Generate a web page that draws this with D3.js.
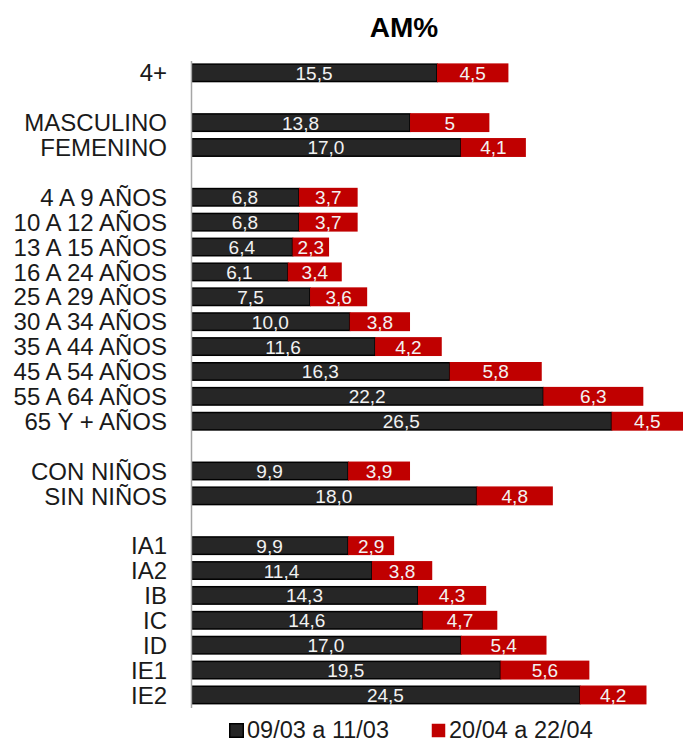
<!DOCTYPE html>
<html>
<head>
<meta charset="utf-8">
<script src="https://cdn.jsdelivr.net/npm/d3@7"></script>
<style>
  html, body { margin: 0; padding: 0; background: #fff; }
  svg { display: block; font-family: "Liberation Sans", Arial, sans-serif; }
</style>
</head>
<body>
<svg id="chart" width="684" height="742"></svg>
<script>
// Row labels; null marks an empty spacer row between groups
const categories = [
  "4+", null,
  "MASCULINO", "FEMENINO", null,
  "4 A 9 AÑOS", "10 A 12 AÑOS", "13 A 15 AÑOS", "16 A 24 AÑOS", "25 A 29 AÑOS",
  "30 A 34 AÑOS", "35 A 44 AÑOS", "45 A 54 AÑOS", "55 A 64 AÑOS", "65 Y + AÑOS", null,
  "CON NIÑOS", "SIN NIÑOS", null,
  "IA1", "IA2", "IB", "IC", "ID", "IE1", "IE2"
];

// Series values as printed (decimal comma)
const period1 = [
  "15,5", null,
  "13,8", "17,0", null,
  "6,8", "6,8", "6,4", "6,1", "7,5", "10,0", "11,6", "16,3", "22,2", "26,5", null,
  "9,9", "18,0", null,
  "9,9", "11,4", "14,3", "14,6", "17,0", "19,5", "24,5"
];
const period2 = [
  "4,5", null,
  "5", "4,1", null,
  "3,7", "3,7", "2,3", "3,4", "3,6", "3,8", "4,2", "5,8", "6,3", "4,5", null,
  "3,9", "4,8", null,
  "2,9", "3,8", "4,3", "4,7", "5,4", "5,6", "4,2"
];

const seriesNames = ["09/03 a 11/03", "20/04 a 22/04"];
const title = "AM%";

const num = s => +String(s).replace(",", ".");

const rows = categories.map((c, i) => ({
  key: String(i),
  label: c,
  a: period1[i] == null ? null : num(period1[i]),
  b: period2[i] == null ? null : num(period2[i]),
  aText: period1[i],
  bText: period2[i]
}));

const svg = d3.select("#chart");

const x = d3.scaleLinear().domain([0, 31]).range([191, 683]);
const y = d3.scaleBand()
  .domain(rows.map(r => r.key))
  .range([60.4, 707.4])
  .paddingInner(0.24)
  .paddingOuter(0.12);

// Title
svg.append("text")
  .attr("x", 404).attr("y", 37)
  .attr("text-anchor", "middle")
  .attr("font-size", 28).attr("font-weight", "bold")
  .attr("fill", "#000")
  .text(title);

const data = rows.filter(r => r.label != null);

// First period bars
svg.append("g").selectAll("rect")
  .data(data).join("rect")
  .attr("x", x(0) + 0.75)
  .attr("y", d => y(d.key) + 0.75)
  .attr("width", d => x(d.a) - x(0) - 0.75)
  .attr("height", y.bandwidth() - 1.5)
  .attr("fill", "#262626")
  .attr("stroke", "#000")
  .attr("stroke-width", 1.5);

// Second period bars, stacked after the first
svg.append("g").selectAll("rect")
  .data(data).join("rect")
  .attr("x", d => x(d.a))
  .attr("y", d => y(d.key))
  .attr("width", d => x(d.a + d.b) - x(d.a))
  .attr("height", y.bandwidth())
  .attr("fill", "#c00000");

// Value labels centred in each segment
const labels = svg.append("g")
  .attr("font-size", 19)
  .attr("fill", "#f2f2f2")
  .attr("text-anchor", "middle");

labels.selectAll("text.a")
  .data(data).join("text")
  .attr("class", "a")
  .attr("x", d => (x(0) + x(d.a)) / 2)
  .attr("y", d => y(d.key) + y.bandwidth() / 2 + 7)
  .text(d => d.aText);

labels.selectAll("text.b")
  .data(data).join("text")
  .attr("class", "b")
  .attr("x", d => (x(d.a) + x(d.a + d.b)) / 2)
  .attr("y", d => y(d.key) + y.bandwidth() / 2 + 7)
  .text(d => d.bText);

// Category axis
const axis = d3.axisLeft(y)
  .tickSize(0)
  .tickPadding(24)
  .tickFormat(k => rows[+k].label || "");

const gAxis = svg.append("g")
  .attr("transform", `translate(${x(0)},0)`)
  .call(axis);
gAxis.select(".domain").attr("stroke", "#a6a6a6").attr("stroke-width", 1.5);
gAxis.selectAll(".tick text")
  .attr("font-size", 24)
  .attr("font-family", "'Liberation Sans', Arial, sans-serif")
  .attr("fill", "#1a1a1a")
  .attr("dy", "0.36em");

// Legend
const legendItems = [
  { name: seriesNames[0], fill: "#262626", stroke: "#000", x: 229 },
  { name: seriesNames[1], fill: "#c00000", stroke: "none", x: 431 }
];
const lg = svg.append("g").selectAll("g")
  .data(legendItems).join("g")
  .attr("transform", d => `translate(${d.x},723)`);
lg.append("rect")
  .attr("x", 0.75).attr("y", 0.75)
  .attr("width", 13.5).attr("height", 13.5)
  .attr("fill", d => d.fill)
  .attr("stroke", d => d.stroke)
  .attr("stroke-width", 1.5);
lg.append("text")
  .attr("x", 18).attr("y", 15)
  .attr("font-size", 23.5)
  .attr("fill", "#1a1a1a")
  .text(d => d.name);
</script>
</body>
</html>
